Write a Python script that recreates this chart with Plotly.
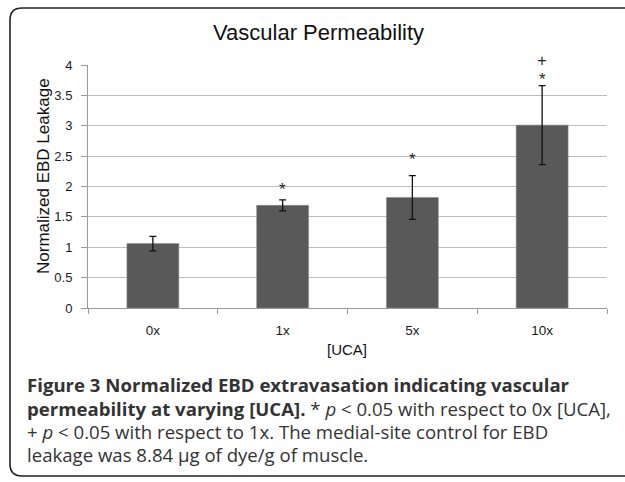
import plotly.graph_objects as go

# ---- data ----
categories = ["0x", "1x", "5x", "10x"]
values = [1.06, 1.69, 1.82, 3.01]
errors = [0.12, 0.09, 0.36, 0.65]
star_y = [None, 1.99, 2.47, 3.80]
plus_on = [False, False, False, True]
y_ticks = [0, 0.5, 1, 1.5, 2, 2.5, 3, 3.5, 4]
y_ticklabels = ["0", "0.5", "1", "1.5", "2", "2.5", "3", "3.5", "4"]

title_text = "Vascular Permeability"
ytitle_text = "Normalized EBD Leakage"
xtitle_text = "[UCA]"
caption_lines = [
    "<b>Figure 3 Normalized EBD extravasation indicating vascular</b>",
    "<b>permeability at varying [UCA].</b> * <i>p</i> &lt; 0.05 with respect to 0x [UCA],",
    "+ <i>p</i> &lt; 0.05 with respect to 1x. The medial-site control for EBD",
    "leakage was 8.84 μg of dye/g of muscle.",
]

# ---- geometry (pixels) ----
W, H = 625, 482
L, R, T, B = 88, 607, 65, 308
PW, PH = R - L, B - T


def px(xp):
    return (xp - L) / PW


def py(yp):
    return (B - yp) / PH


fig = go.Figure()
fig.add_trace(go.Bar(
    x=categories, y=values, width=0.4,
    marker=dict(color="#595959", line=dict(color="#8c8c8c", width=0.6)),
    error_y=dict(type="data", array=errors, visible=True, color="#111111",
                 thickness=1.3, width=3.5),
    showlegend=False, hoverinfo="skip",
))

annotations = []
mark_font = dict(family="Liberation Sans, Arial", size=17, color="#2a2a2a")
for c, yv, plus in zip(categories, star_y, plus_on):
    if yv is not None:
        annotations.append(dict(text="*", x=c, y=yv, xref="x", yref="y",
                                yshift=-2, showarrow=False, xanchor="center",
                                yanchor="middle", font=mark_font))
        if plus:
            annotations.append(dict(text="+", x=c, y=yv, xref="x", yref="y",
                                    yshift=17, showarrow=False, xanchor="center",
                                    yanchor="middle", font=mark_font))

# rounded frame (extends past right edge)
r = 12
x0, xr, yt, yb = 10, 650, 8, 476
path = (f"M {px(xr)},{py(yt)} L {px(x0 + r)},{py(yt)} "
        f"Q {px(x0)},{py(yt)} {px(x0)},{py(yt + r)} "
        f"L {px(x0)},{py(yb - r)} "
        f"Q {px(x0)},{py(yb)} {px(x0 + r)},{py(yb)} "
        f"L {px(xr)},{py(yb)}")
shapes = [dict(type="path", path=path, xref="paper", yref="paper",
               line=dict(color="#222222", width=1.6), layer="above")]

annotations += [
    dict(text=title_text, x=px(318), y=py(33), xref="paper", yref="paper",
         showarrow=False, xanchor="center", yanchor="middle",
         font=dict(family="Liberation Sans, Arial", size=22, color="#111111")),
    dict(text=ytitle_text, x=px(43), y=py(176), xref="paper", yref="paper",
         showarrow=False, xanchor="center", yanchor="middle", textangle=-90,
         font=dict(family="Liberation Sans, Arial", size=17, color="#111111")),
    dict(text=xtitle_text, x=px(347), y=py(349), xref="paper", yref="paper",
         showarrow=False, xanchor="center", yanchor="middle",
         font=dict(family="Liberation Sans, Arial", size=15, color="#111111")),
]
cap_y = [384, 408, 431, 454]
for line, yy in zip(caption_lines, cap_y):
    annotations.append(dict(
        text=line, x=px(25), y=py(yy), xref="paper", yref="paper",
        showarrow=False, xanchor="left", yanchor="middle", align="left",
        font=dict(family="Open Sans", size=18.6, color="#333333")))

fig.update_layout(
    width=W, height=H,
    margin=dict(l=L, r=W - R, t=T, b=H - B, pad=0),
    paper_bgcolor="white", plot_bgcolor="white",
    shapes=shapes, annotations=annotations,
    xaxis=dict(type="category", showline=True, linecolor="#9a9a9a", linewidth=1,
               ticks="outside", tickson="boundaries", ticklen=5,
               tickcolor="#9a9a9a", showgrid=False, ticklabelstandoff=10,
               tickfont=dict(family="Liberation Sans, Arial", size=13.5, color="#1a1a1a")),
    yaxis=dict(range=[0, 4], tickvals=y_ticks, ticktext=y_ticklabels,
               showline=True, linecolor="#9a9a9a", linewidth=1,
               ticks="outside", ticklen=6, tickcolor="#9a9a9a",
               showgrid=True, gridcolor="#bdbdbd", gridwidth=1,
               zeroline=False, ticklabelstandoff=6,
               tickfont=dict(family="Liberation Sans, Arial", size=13, color="#1a1a1a")),
)

fig.write_html("out.html", config={"displayModeBar": False},
               post_script="document.body.style.margin='0';")
